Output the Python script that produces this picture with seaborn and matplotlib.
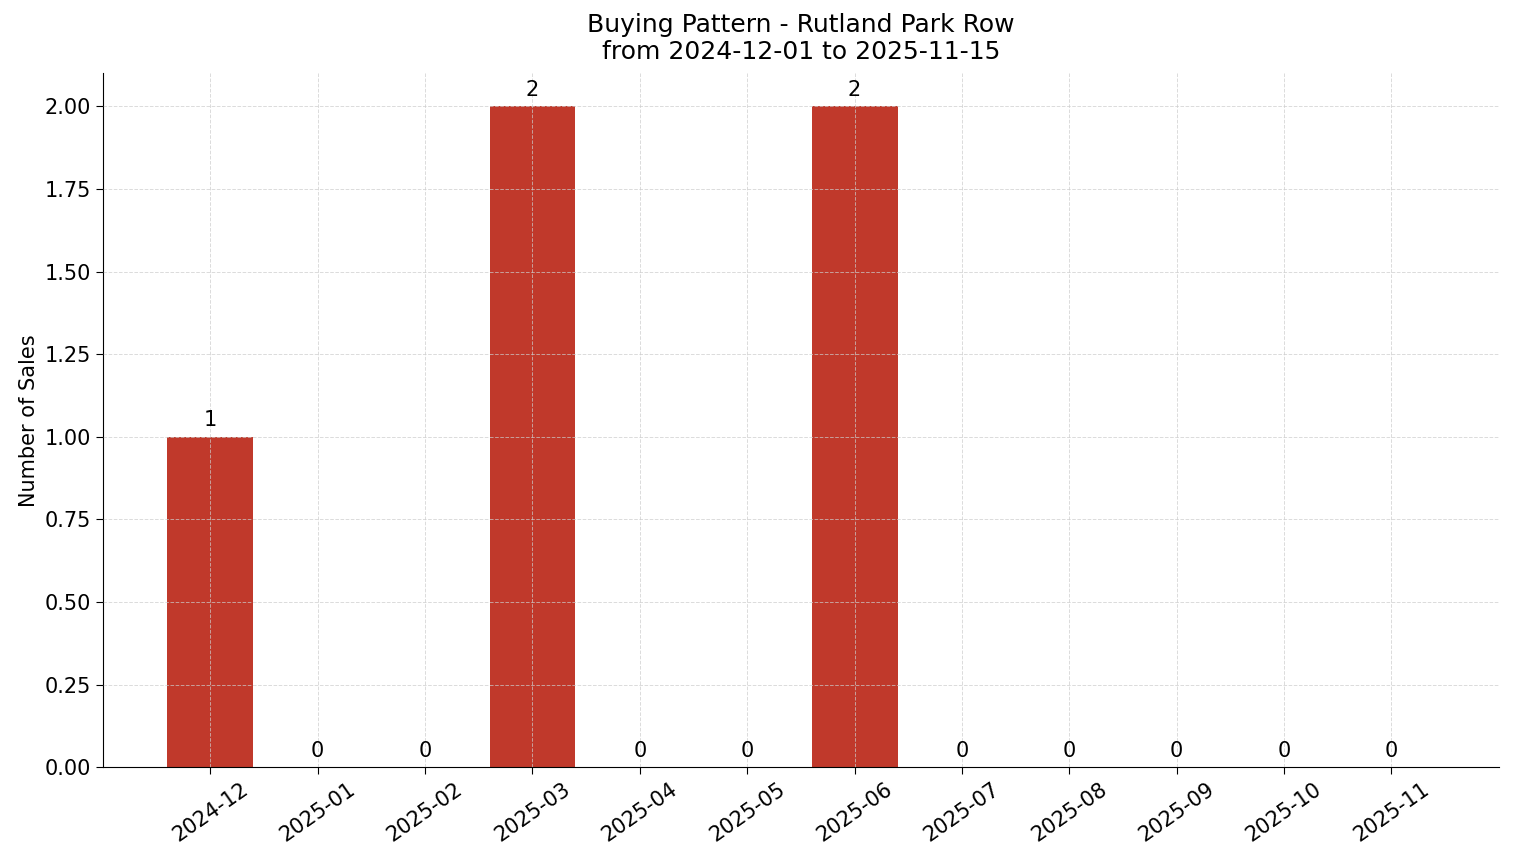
import pandas as pd
import matplotlib
matplotlib.use("Agg")
import matplotlib.pyplot as plt
import seaborn as sns

months = ["2024-12", "2025-01", "2025-02", "2025-03", "2025-04", "2025-05",
          "2025-06", "2025-07", "2025-08", "2025-09", "2025-10", "2025-11"]
sales = [1, 0, 0, 2, 0, 0, 2, 0, 0, 0, 0, 0]

df = pd.DataFrame({"mes": months, "vendas": sales})

plt.rcParams['font.family'] = ['DejaVu Sans']

fig, ax = plt.subplots(figsize=(15.14, 8.63), dpi=100)
sns.barplot(data=df, x="mes", y="vendas", color="#c0392b", saturation=1,
            width=0.8, linewidth=0, ax=ax)

# rotulos em cima das barras
for i, v in enumerate(sales):
    ax.text(i, v + 0.02, str(v), ha="center", va="bottom", fontsize=15, color="black")

ax.set_axisbelow(False)
ax.grid(True, linestyle="--", linewidth=0.7, color="#cccccc", alpha=0.7)
ax.set_xlim(-1, 12)
ax.set_ylim(0, 2.1)
ax.set_yticks([0, 0.25, 0.5, 0.75, 1.0, 1.25, 1.5, 1.75, 2.0])
ax.set_yticklabels([f"{t:.2f}" for t in ax.get_yticks()])
ax.tick_params(axis="both", labelsize=15, length=5, colors="black")
ax.tick_params(axis="x", rotation=35)
ax.set_xlabel("")
ax.set_ylabel("Number of Sales", fontsize=15)
ax.set_title("Buying Pattern - Rutland Park Row\nfrom 2024-12-01 to 2025-11-15", fontsize=18, pad=10)
sns.despine(ax=ax)

fig.subplots_adjust(left=0.068, right=0.99, top=0.915, bottom=0.111)
fig.savefig("out.png", dpi=100)
